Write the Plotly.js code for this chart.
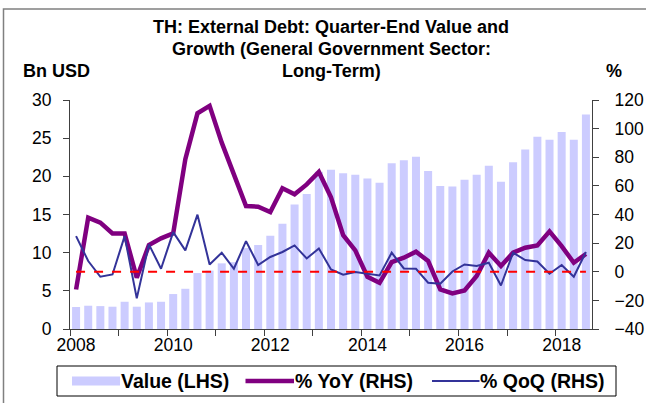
<!DOCTYPE html>
<html>
<head>
<meta charset="utf-8">
<script src="https://cdn.plot.ly/plotly-3.0.1.min.js"></script>
<style>
  html, body { margin: 0; padding: 0; background: #ffffff; }
  #chart { width: 646px; height: 403px; }
</style>
</head>
<body>
<div id="chart"></div>
<script>
// ---- data ----
var quarters = [
  "2008Q1","2008Q2","2008Q3","2008Q4",
  "2009Q1","2009Q2","2009Q3","2009Q4",
  "2010Q1","2010Q2","2010Q3","2010Q4",
  "2011Q1","2011Q2","2011Q3","2011Q4",
  "2012Q1","2012Q2","2012Q3","2012Q4",
  "2013Q1","2013Q2","2013Q3","2013Q4",
  "2014Q1","2014Q2","2014Q3","2014Q4",
  "2015Q1","2015Q2","2015Q3","2015Q4",
  "2016Q1","2016Q2","2016Q3","2016Q4",
  "2017Q1","2017Q2","2017Q3","2017Q4",
  "2018Q1","2018Q2","2018Q3"
];
var valueBn = [
  2.88, 3.05, 3.00, 2.92,
  3.57, 2.92, 3.48, 3.57,
  4.58, 5.27, 7.33, 7.65,
  8.60, 8.75, 10.60, 11.00,
  12.20, 13.80, 16.30, 17.70,
  20.60, 20.85, 20.40, 20.20,
  19.70, 19.15, 21.70, 22.10,
  22.55, 20.70, 18.75, 18.67,
  19.55, 20.20, 21.40, 19.30,
  21.85, 23.50, 25.20, 24.80,
  25.80, 24.80, 28.10
];
var yoyPct = [
  -12.4, 37.8, 34.3, 26.8,
  26.8, -4.2, 18.6, 23.3,
  26.8, 78.6, 110.7, 115.9,
  90.2, 68.0, 45.9, 45.5,
  41.7, 58.3, 54.1, 61.0,
  69.7, 52.0, 25.6, 14.9,
  -3.5, -7.7, 6.8, 9.8,
  14.0, 7.5, -12.4, -15.2,
  -13.1, -3.0, 13.3, 4.0,
  13.3, 16.8, 18.4, 28.2,
  17.9, 6.3, 12.4
];
var qoqPct = [
  24.9, 7.5, -3.5, -1.9,
  24.9, -18.6, 19.1, 2.1,
  27.7, 14.9, 39.9, 5.1,
  13.3, 2.1, 21.4, 4.7,
  10.3, 13.8, 18.4, 9.3,
  16.3, 1.6, -2.1, -0.2,
  -1.4, -2.6, 13.3, 2.3,
  2.1, -7.7, -8.4, 0.2,
  5.1, 4.0, 6.3, -9.6,
  13.3, 8.2, 7.2, -1.4,
  4.7, -3.5, 13.8
];
var yearLabels = ["2008","2010","2012","2014","2016","2018"];
var titleLines = [
  "TH: External Debt: Quarter-End Value and",
  "Growth (General Government Sector:",
  "Long-Term)"
];
var leftUnit = "Bn USD";
var rightUnit = "%";
var seriesNames = ["Value (LHS)", "% YoY (RHS)", "% QoQ (RHS)"];
var seriesColors = ["#CCCCFF", "#800080", "#333399"];

// ---- positions derived from the category list ----
var xIdx = quarters.map(function (q, i) { return i; });
var yearTickPos = yearLabels.map(function (y) { return quarters.indexOf(y + "Q1"); });

var FONT = "Liberation Sans, Arial, sans-serif";
var AXIS_COLOR = "#404040";
var ML = 70, MR = 54, MT = 100, MB = 74, W = 646, H = 403;
var PW = W - ML - MR, PH = H - MT - MB;
function pyToPaper(py) { return (H - MB - py) / PH; }
function pxToPaper(px) { return (px - ML) / PW; }

var traces = [
  {
    type: "bar",
    x: xIdx,
    y: valueBn,
    name: seriesNames[0],
    marker: { color: seriesColors[0] },
    yaxis: "y",
    showlegend: false
  },
  {
    type: "scatter",
    mode: "lines",
    x: xIdx,
    y: yoyPct,
    name: seriesNames[1],
    line: { color: seriesColors[1], width: 4.5 },
    yaxis: "y2",
    showlegend: false
  },
  {
    type: "scatter",
    mode: "lines",
    x: xIdx,
    y: qoqPct,
    name: seriesNames[2],
    line: { color: seriesColors[2], width: 2 },
    yaxis: "y2",
    showlegend: false
  }
];

var annotations = titleLines.map(function (t, i) {
  return {
    text: "<b>" + t + "</b>",
    xref: "paper", yref: "paper",
    x: pxToPaper(331), y: pyToPaper(26.5 + i * 22),
    xanchor: "center", yanchor: "middle",
    showarrow: false,
    font: { family: FONT, size: 18, color: "#000000" }
  };
});
annotations.push({
  text: "<b>" + leftUnit + "</b>",
  xref: "paper", yref: "paper",
  x: pxToPaper(56), y: pyToPaper(71),
  xanchor: "center", yanchor: "middle", showarrow: false,
  font: { family: FONT, size: 18, color: "#000000" }
});
annotations.push({
  text: "<b>" + rightUnit + "</b>",
  xref: "paper", yref: "paper",
  x: pxToPaper(614), y: pyToPaper(71),
  xanchor: "center", yanchor: "middle", showarrow: false,
  font: { family: FONT, size: 18, color: "#000000" }
});

// ---- legend (box, swatches and labels) ----
var legY = 381;
var legItems = [
  { sx0: 72, sx1: 120, tx: 121, kind: "bar", width: 0 },
  { sx0: 245.5, sx1: 294, tx: 295, kind: "line", width: 4.5 },
  { sx0: 432, sx1: 479.5, tx: 480, kind: "line", width: 2 }
];
var shapes = [
  {
    type: "line",
    xref: "x", yref: "y2",
    x0: xIdx[0], x1: xIdx[xIdx.length - 1],
    y0: 0, y1: 0,
    line: { color: "#FF0000", width: 2, dash: "dash" },
    layer: "above"
  },
  {
    type: "rect",
    xref: "paper", yref: "paper",
    x0: pxToPaper(3.5), x1: pxToPaper(700),
    y0: pyToPaper(450), y1: pyToPaper(9),
    line: { color: "#808080", width: 1.5 },
    fillcolor: "rgba(0,0,0,0)",
    layer: "below"
  },
  {
    type: "rect",
    xref: "paper", yref: "paper",
    x0: pxToPaper(57), x1: pxToPaper(616),
    y0: pyToPaper(396), y1: pyToPaper(366),
    line: { color: "#000000", width: 1 },
    fillcolor: "#ffffff",
    layer: "above"
  }
];
legItems.forEach(function (it, i) {
  if (it.kind === "bar") {
    shapes.push({
      type: "rect", xref: "paper", yref: "paper",
      x0: pxToPaper(it.sx0), x1: pxToPaper(it.sx1),
      y0: pyToPaper(legY + 4.5), y1: pyToPaper(legY - 4.5),
      line: { width: 0 }, fillcolor: seriesColors[i], layer: "above"
    });
  } else {
    shapes.push({
      type: "line", xref: "paper", yref: "paper",
      x0: pxToPaper(it.sx0), x1: pxToPaper(it.sx1),
      y0: pyToPaper(legY), y1: pyToPaper(legY),
      line: { color: seriesColors[i], width: it.width }, layer: "above"
    });
  }
  annotations.push({
    text: "<b>" + seriesNames[i] + "</b>",
    xref: "paper", yref: "paper",
    x: pxToPaper(it.tx - 1), y: pyToPaper(legY),
    xanchor: "left", yanchor: "middle", showarrow: false,
    borderpad: 0,
    font: { family: FONT, size: 19.5, color: "#000000" }
  });
});

var layout = {
  width: W,
  height: H,
  margin: { l: ML, r: MR, t: MT, b: MB, pad: 0 },
  paper_bgcolor: "#ffffff",
  plot_bgcolor: "#ffffff",
  font: { family: FONT, size: 17, color: "#000000" },
  bargap: 0.34,
  showlegend: false,
  xaxis: {
    range: [-0.5, quarters.length - 0.5],
    tickmode: "array",
    tickvals: yearTickPos,
    ticktext: yearLabels,
    ticks: "",
    showline: true,
    linecolor: AXIS_COLOR,
    linewidth: 1,
    showgrid: false,
    zeroline: false,
    tickfont: { family: FONT, size: 17.5, color: "#000000" },
    minor: {
      tickmode: "linear",
      tick0: -0.5,
      dtick: 4,
      ticks: "outside",
      ticklen: 6,
      tickwidth: 1,
      tickcolor: AXIS_COLOR,
      showgrid: false
    },
    fixedrange: true
  },
  yaxis: {
    range: [0, 30],
    dtick: 5,
    tick0: 0,
    ticks: "outside",
    ticklen: 6,
    tickwidth: 1,
    tickcolor: AXIS_COLOR,
    showline: true,
    linecolor: AXIS_COLOR,
    linewidth: 1,
    showgrid: false,
    zeroline: false,
    ticklabelstandoff: 8,
    tickfont: { family: FONT, size: 17.5, color: "#000000" },
    fixedrange: true
  },
  yaxis2: {
    overlaying: "y",
    side: "right",
    range: [-40, 120],
    dtick: 20,
    tick0: 0,
    ticks: "outside",
    ticklen: 6,
    tickwidth: 1,
    tickcolor: AXIS_COLOR,
    showline: true,
    linecolor: AXIS_COLOR,
    linewidth: 1,
    showgrid: false,
    zeroline: false,
    ticklabelstandoff: 12,
    tickfont: { family: FONT, size: 17.5, color: "#000000" },
    fixedrange: true
  },
  shapes: shapes,
  annotations: annotations
};

Plotly.newPlot("chart", traces, layout, { displayModeBar: false, staticPlot: true });
</script>
</body>
</html>
